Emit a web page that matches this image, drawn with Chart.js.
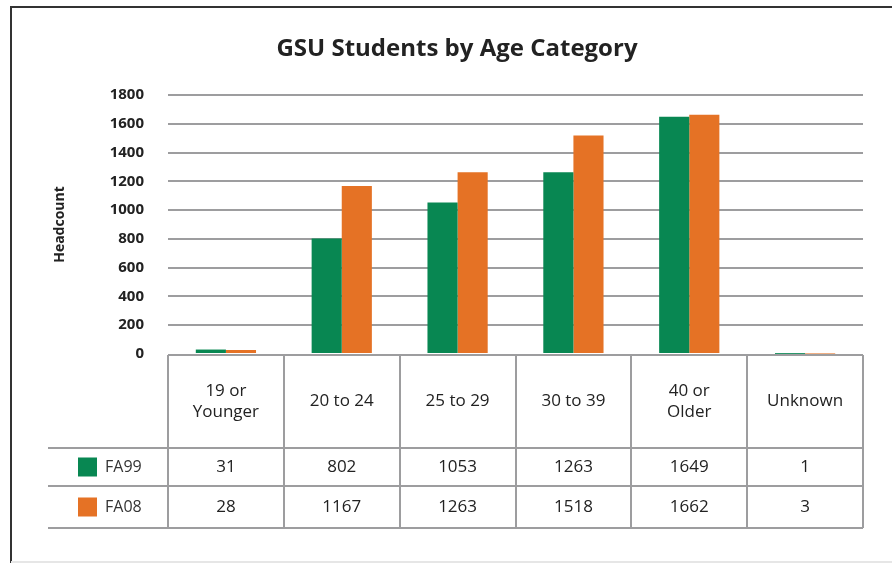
<!DOCTYPE html>
<html>
<head>
<meta charset="utf-8">
<script src="https://cdn.jsdelivr.net/npm/chart.js@4/dist/chart.umd.min.js"></script>
<style>
  html, body { margin: 0; padding: 0; background: #fff; }
  #wrap { position: relative; width: 892px; height: 563px; }
</style>
</head>
<body>
<div id="wrap"><canvas id="c" width="892" height="563"></canvas></div>
<script>
// ---- data ----
const categories = [["19 or", "Younger"], ["20 to 24"], ["25 to 29"], ["30 to 39"], ["40 or", "Older"], ["Unknown"]];
const seriesNames = ["FA99", "FA08"];
const fa99 = [31, 802, 1053, 1263, 1649, 1];
const fa08 = [28, 1167, 1263, 1518, 1662, 3];
const yTicks = [0, 200, 400, 600, 800, 1000, 1200, 1400, 1600, 1800];
const colors = ["#088752", "#E57225"];

const FONT = "'Open Sans', 'DejaVu Sans', sans-serif";
const LINE = "#9d9d9f";

const tablePlugin = {
  id: 'tablePlugin',
  afterDraw(chart) {
    const ctx = chart.ctx;
    const x = chart.scales.x;
    const area = chart.chartArea;
    const n = categories.length;
    const cw = (area.right - area.left) / n;
    const top = area.bottom + 1;
    const r1 = 448, r2 = 486, r3 = 528;
    const legendLeft = 48;
    ctx.save();
    // frame
    ctx.strokeStyle = "#333";
    ctx.lineWidth = 2;
    ctx.beginPath();
    ctx.moveTo(11, 563); ctx.lineTo(11, 7); ctx.lineTo(892, 7);
    ctx.stroke();
    ctx.strokeStyle = "#e6e6e6";
    ctx.beginPath();
    ctx.moveTo(11, 562); ctx.lineTo(892, 562);
    ctx.stroke();

    // table lines
    ctx.strokeStyle = LINE;
    ctx.lineWidth = 2;
    ctx.beginPath();
    ctx.moveTo(area.left, top); ctx.lineTo(area.right, top);
    [r1, r2, r3].forEach(y => { ctx.moveTo(legendLeft, y); ctx.lineTo(area.right, y); });
    for (let i = 0; i <= n; i++) {
      const xx = Math.round(area.left + i * cw);
      ctx.moveTo(xx, top); ctx.lineTo(xx, r3);
    }
    ctx.stroke();

    // header text
    ctx.fillStyle = "#222";
    ctx.textAlign = "center";
    ctx.textBaseline = "middle";
    ctx.font = "17px " + FONT;
    categories.forEach((lines, i) => {
      const cx = x.getPixelForValue(i);
      const mid = (top + r1) / 2;
      const lh = 21;
      const start = mid - (lines.length - 1) * lh / 2;
      lines.forEach((t, j) => ctx.fillText(t, cx, start + j * lh));
    });
    // values
    [fa99, fa08].forEach((arr, k) => {
      const cy = k === 0 ? (r1 + r2) / 2 : (r2 + r3) / 2;
      arr.forEach((v, i) => ctx.fillText(String(v), x.getPixelForValue(i), cy));
      // legend
      ctx.fillStyle = colors[k];
      ctx.fillRect(78, cy - 9.5, 19, 19);
      ctx.fillStyle = "#333";
      ctx.textAlign = "left";
      ctx.font = "16px " + FONT;
      ctx.fillText(seriesNames[k], 105, cy + 0.5);
      ctx.textAlign = "center";
      ctx.font = "17px " + FONT;
      ctx.fillStyle = "#222";
    });
    ctx.restore();
  }
};

new Chart(document.getElementById('c'), {
  type: 'bar',
  data: {
    labels: categories.map(c => c.join(' ')),
    datasets: [
      { label: seriesNames[0], data: fa99, backgroundColor: colors[0], categoryPercentage: 0.52, barPercentage: 1.0 },
      { label: seriesNames[1], data: fa08, backgroundColor: colors[1], categoryPercentage: 0.52, barPercentage: 1.0 }
    ]
  },
  options: {
    responsive: false,
    animation: false,
    layout: { padding: { left: 51, right: 29, top: 0, bottom: 209 } },
    plugins: {
      legend: { display: false },
      tooltip: { enabled: false },
      title: {
        display: true,
        text: 'GSU Students by Age Category',
        color: '#222',
        font: { family: FONT, size: 24, weight: 'bold', lineHeight: 1.2 },
        padding: { top: 35, bottom: 31.2 }
      }
    },
    scales: {
      x: { display: false },
      y: {
        min: 0, max: 1800,
        afterFit: s => { s.width = 117; },
        afterBuildTicks: s => { s.ticks = yTicks.map(v => ({ value: v })); },
        ticks: {
          color: '#222',
          padding: 24,
          font: { family: FONT, size: 15, weight: 'bold' },
          callback: v => String(v)
        },
        grid: {
          color: ctx => ctx.tick && ctx.tick.value === 0 ? 'rgba(0,0,0,0)' : LINE,
          lineWidth: 2,
          drawTicks: false
        },
        border: { display: false },
        title: {
          display: true,
          text: 'Headcount',
          color: '#222',
          font: { family: FONT, size: 14, weight: 'bold' },
          padding: { top: 1, bottom: 0 }
        }
      }
    }
  },
  plugins: [tablePlugin]
});
</script>
</body>
</html>
